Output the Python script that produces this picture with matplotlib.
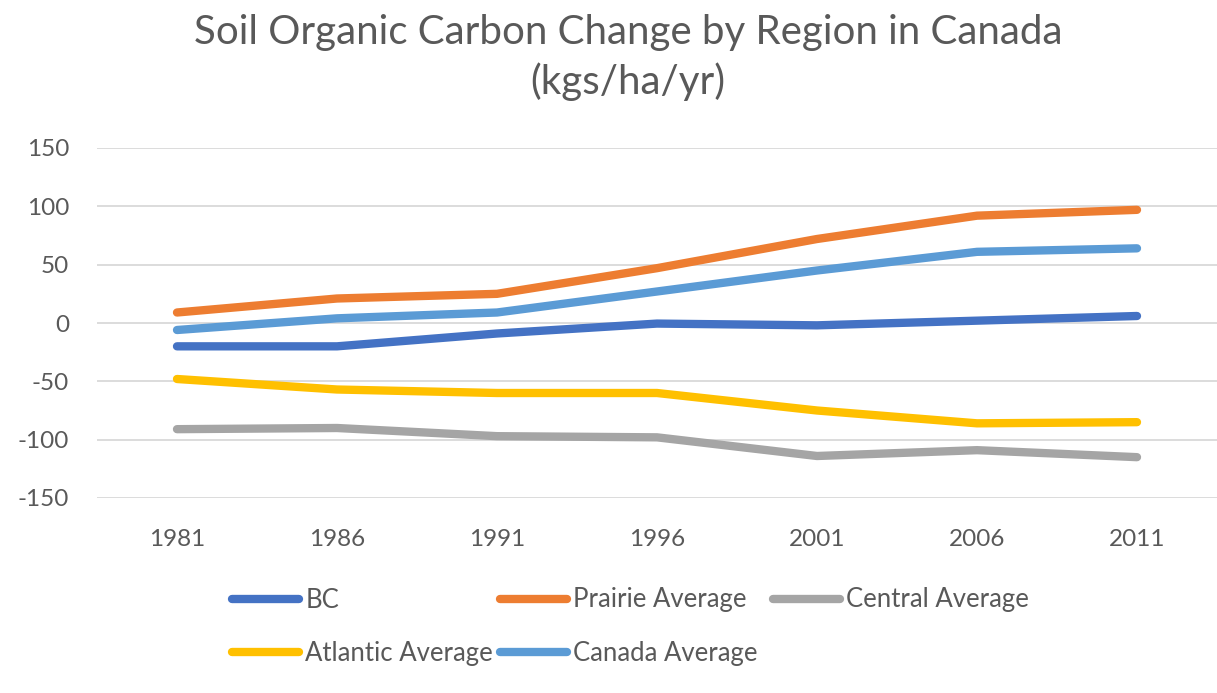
import matplotlib.pyplot as plt

plt.rcParams['font.family'] = ['Lato', 'DejaVu Sans']
plt.rcParams['axes.unicode_minus'] = False

years = ['1981', '1986', '1991', '1996', '2001', '2006', '2011']
bc = [-20, -20, -9, -0.5, -2, 2, 6]
prairie = [9, 21, 25, 47, 72, 92, 97]
central = [-91, -90, -97, -98, -114, -109, -115]
atlantic = [-48, -57, -60, -60, -75, -86, -85]
canada = [-6, 4, 9, 27, 45, 61, 64]

series = [
    ("BC", bc, "#4472C4"),
    ("Prairie Average", prairie, "#ED7D31"),
    ("Central Average", central, "#A5A5A5"),
    ("Atlantic Average", atlantic, "#FFC000"),
    ("Canada Average", canada, "#5B9BD5"),
]
txt = "#595959"
W, H = 1217, 693

fig = plt.figure(figsize=(W / 100, H / 100), dpi=100)
ax = fig.add_axes([97 / W, 1 - 498 / H, 1120 / W, 350 / H])

lines = {}
x = range(len(years))
for name, vals, col in series:
    ln, = ax.plot(x, vals, color=col, lw=6, solid_capstyle='round', solid_joinstyle='round')
    lines[name] = ln

ax.set_xlim(-0.5, 6.5)
ax.set_ylim(-150, 150)
ax.set_yticks(range(-150, 151, 50))
ax.set_xticks(list(x))
ax.set_xticklabels(years)
ax.grid(axis='y', color='#d9d9d9', lw=1.3)
ax.set_axisbelow(True)
for s in ax.spines.values():
    s.set_visible(False)
ax.tick_params(length=0, labelsize=17.5, colors=txt, pad=20)
ax.tick_params(axis='x', pad=22)

fig.suptitle("Soil Organic Carbon Change by Region in Canada\n(kgs/ha/yr)",
             x=628 / W, y=0.98, fontsize=29, color=txt, linespacing=1.35)

# legend entries laid out like Excel: 3 per row, fixed column starts
leg_pos = {
    "BC": (232, 600),
    "Prairie Average": (500, 600),
    "Central Average": (773, 600),
    "Atlantic Average": (232, 653),
    "Canada Average": (500, 653),
}
for name, (px, py) in leg_pos.items():
    fig.legend([lines[name]], [name], frameon=False, loc='center left',
               bbox_to_anchor=(px / W, 1 - py / H), fontsize=18.5, labelcolor=txt,
               handlelength=2.6, handletextpad=0.25, borderpad=0, borderaxespad=0)

fig.savefig("out.png", dpi=100)
